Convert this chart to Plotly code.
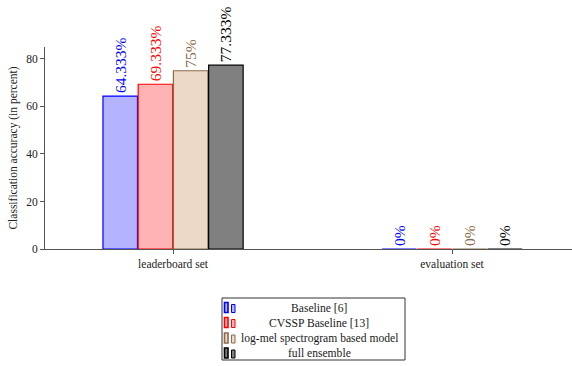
import plotly.graph_objects as go

categories = ["leaderboard set", "evaluation set"]
series_names = ["Baseline [6]", "CVSSP Baseline [13]", "log-mel spectrogram based model", "full ensemble"]
baseline = [64.333, 0]
cvssp = [69.333, 0]
logmel = [75, 0]
ensemble = [77.333, 0]
labels_baseline = ["64.333%", "0%"]
labels_cvssp = ["69.333%", "0%"]
labels_logmel = ["75%", "0%"]
labels_ensemble = ["77.333%", "0%"]

fills = ["#b3b3ff", "#ffb3b3", "#ecd9c6", "#808080"]
edges = ["#0000ff", "#ff0000", "#8c6b4a", "#000000"]
textcols = ["#0000ff", "#ff0000", "#8c6b4a", "#000000"]

FONT = "Liberation Serif"
W, H = 572, 366
L, R, T, B = 45, 0, 47, 117
PW, PH = W - L - R, H - T - B

def px2paper(x, y):
    return (x - L) / PW, (H - B - y) / PH

fig = go.Figure()
for name, vals, labs, f, e, t in zip(series_names, [baseline, cvssp, logmel, ensemble],
                                     [labels_baseline, labels_cvssp, labels_logmel, labels_ensemble],
                                     fills, edges, textcols):
    fig.add_trace(go.Bar(
        x=[0, 1], y=vals, name=name, text=labs, textposition="outside",
        textangle=-90, constraintext="none", cliponaxis=False, showlegend=False,
        textfont=dict(family=FONT, size=15.5, color=t),
        marker=dict(color=f, line=dict(color=e, width=1.2)),
    ))

# manual legend box (centered text like the reference)
shapes = []
annotations = []
x0, y0 = px2paper(222, 298)
x1, y1 = px2paper(405, 360)
shapes.append(dict(type="rect", xref="paper", yref="paper", x0=x0, y0=y0, x1=x1, y1=y1,
                   line=dict(color="#333", width=1), fillcolor="white", layer="above"))
rows = [308, 323, 338.5, 353.5]
for name, f, e, ry in zip(series_names, fills, edges, rows):
    for i, (sx, h) in enumerate([(224.5, 10), (231.5, 8)]):
        a0, b0 = px2paper(sx, ry + 4.5)
        a1, b1 = px2paper(sx + 3.5, ry + 4.5 - h)
        shapes.append(dict(type="rect", xref="paper", yref="paper", x0=a0, y0=b0, x1=a1, y1=b1,
                           line=dict(color=e, width=1.6 if i == 0 else 1), fillcolor=f, layer="above"))
    tx, ty = px2paper(319, ry)
    annotations.append(dict(x=tx, y=ty, xref="paper", yref="paper", text=name, showarrow=False,
                            xanchor="center", yanchor="middle",
                            font=dict(family=FONT, size=11.6, color="#1a1a1a")))

fig.update_layout(
    width=W, height=H,
    margin=dict(l=L, r=R, t=T, b=B, autoexpand=False),
    paper_bgcolor="white", plot_bgcolor="white",
    barmode="group", bargap=0.495, bargroupgap=0.02,
    font=dict(family=FONT, size=12, color="#222"),
    showlegend=False,
    shapes=shapes, annotations=annotations,
    xaxis=dict(tickmode="array", tickvals=[0, 1], ticktext=categories,
               range=[-0.459, 1.43], showline=True, linecolor="#555", linewidth=1,
               ticks="outside", ticklen=4, tickcolor="#555", showgrid=False, zeroline=False,
               tickfont=dict(family=FONT, size=11.5, color="#222")),
    yaxis=dict(range=[0, 85], tickvals=[0, 20, 40, 60, 80], showline=True, linecolor="#555",
               linewidth=1, ticks="outside", ticklen=4, tickcolor="#555", showgrid=False,
               zeroline=False, title=dict(text="Classification accuracy (in percent)",
                                         font=dict(family=FONT, size=11.5, color="#222"), standoff=6),
               tickfont=dict(family=FONT, size=11.5, color="#222")),
)
fig.write_html("out.html", config={"displayModeBar": False})
with open("out.html", "r", encoding="utf-8") as fh:
    html = fh.read()
html = html.replace("<body>", '<body style="margin:0;padding:0;">', 1)
with open("out.html", "w", encoding="utf-8") as fh:
    fh.write(html)
